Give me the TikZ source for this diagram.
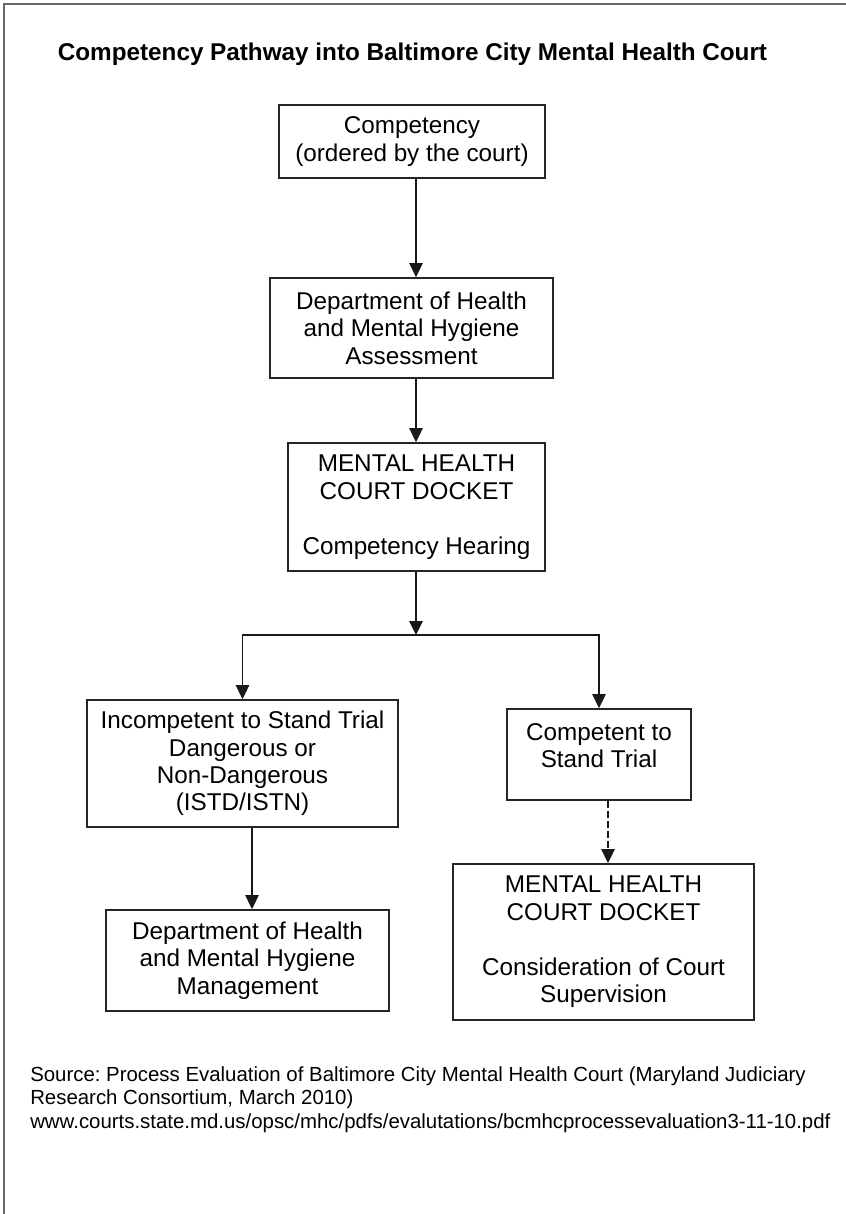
\documentclass[tikz,border=0pt]{standalone}
\usepackage{fontspec}
\setmainfont{Liberation Sans}
\usetikzlibrary{arrows.meta}
\frenchspacing
\newcommand\boxfont{\fontsize{18.2}{20.6}\selectfont}
\newcommand\srcfont{\fontsize{15.3}{17.9}\selectfont}
\begin{document}
\begin{tikzpicture}[x={(0.75pt,0)}, y={(0,-0.75pt)},
  box/.style={draw=black!85, line width=1.3pt, inner sep=0pt, align=center, font=\boxfont},
  txt/.style={inner sep=0pt, align=center, font=\boxfont},
  arr/.style={draw=black!90, line width=1.3pt, -{Triangle[width=10pt,length=10.5pt]}},
  frame/.style={draw=black!60, line width=1.5pt}]
\useasboundingbox (0,0) rectangle (846,1214);
\draw[frame] (846,4) -- (4,4) -- (4,1214);
\node[anchor=base, font=\boxfont\bfseries, inner sep=0pt] (title) at (412.5,60)
  {Competency Pathway into Baltimore City Mental Health Court};
\node[box, minimum width=199.5pt, minimum height=54.75pt] (b1) at (412,141.5)
  {Competency\\(ordered by the court)};
\node[box, minimum width=212.25pt, minimum height=75pt] (b2) at (411.5,328)
  {Department of Health\\and Mental Hygiene\\Assessment};
\node[box, minimum width=192.75pt, minimum height=96pt] (b3) at (416.5,507)
  {MENTAL HEALTH\\COURT DOCKET\\[20.6pt]Competency Hearing};
\node[box, minimum width=233.25pt, minimum height=95.25pt] (istd) at (242.5,763.5)
  {Incompetent to Stand Trial\\Dangerous or\\Non-Dangerous\\(ISTD/ISTN)};
\node[box, minimum width=138pt, minimum height=68.25pt] (comp) at (599,754.5) {};
\node[txt] (comptext) at (599,745.5) {Competent to\\Stand Trial};
\node[box, minimum width=212.25pt, minimum height=75.75pt] (mgmt) at (247.5,960.5)
  {Department of Health\\and Mental Hygiene\\Management};
\node[box, minimum width=225.75pt, minimum height=117pt] (mhc2) at (603.5,942)
  {MENTAL HEALTH\\COURT DOCKET\\[20.6pt]Consideration of Court\\Supervision};
\coordinate (ax) at (416,0);
\coordinate (j) at (416,635);
\coordinate (bx) at (252,0);
\coordinate (cx) at (608,0);
\draw[arr] (b1.south -| ax) -- (b2.north -| ax);
\draw[arr] (b2.south -| ax) -- (b3.north -| ax);
\draw[arr] (b3.south -| j) -- (j);
\draw[arr] (j) -| (istd.north);
\draw[arr] (j) -| (comp.north);
\draw[arr] (istd.south -| bx) -- (mgmt.north -| bx);
\draw[arr, dash pattern=on 5pt off 2.5pt] (comp.south -| cx) -- (mhc2.north -| cx);
\node[anchor=base west, inner sep=0pt, text width=620pt, align=flush left, font=\srcfont] (src) at (30,1081)
  {Source: Process Evaluation of Baltimore City Mental Health Court (Maryland Judiciary\\
   Research Consortium, March 2010)\\
   www.courts.state.md.us/opsc/mhc/pdfs/evalutations/bcmhcprocessevaluation3-11-10.pdf};
\end{tikzpicture}
\end{document}
